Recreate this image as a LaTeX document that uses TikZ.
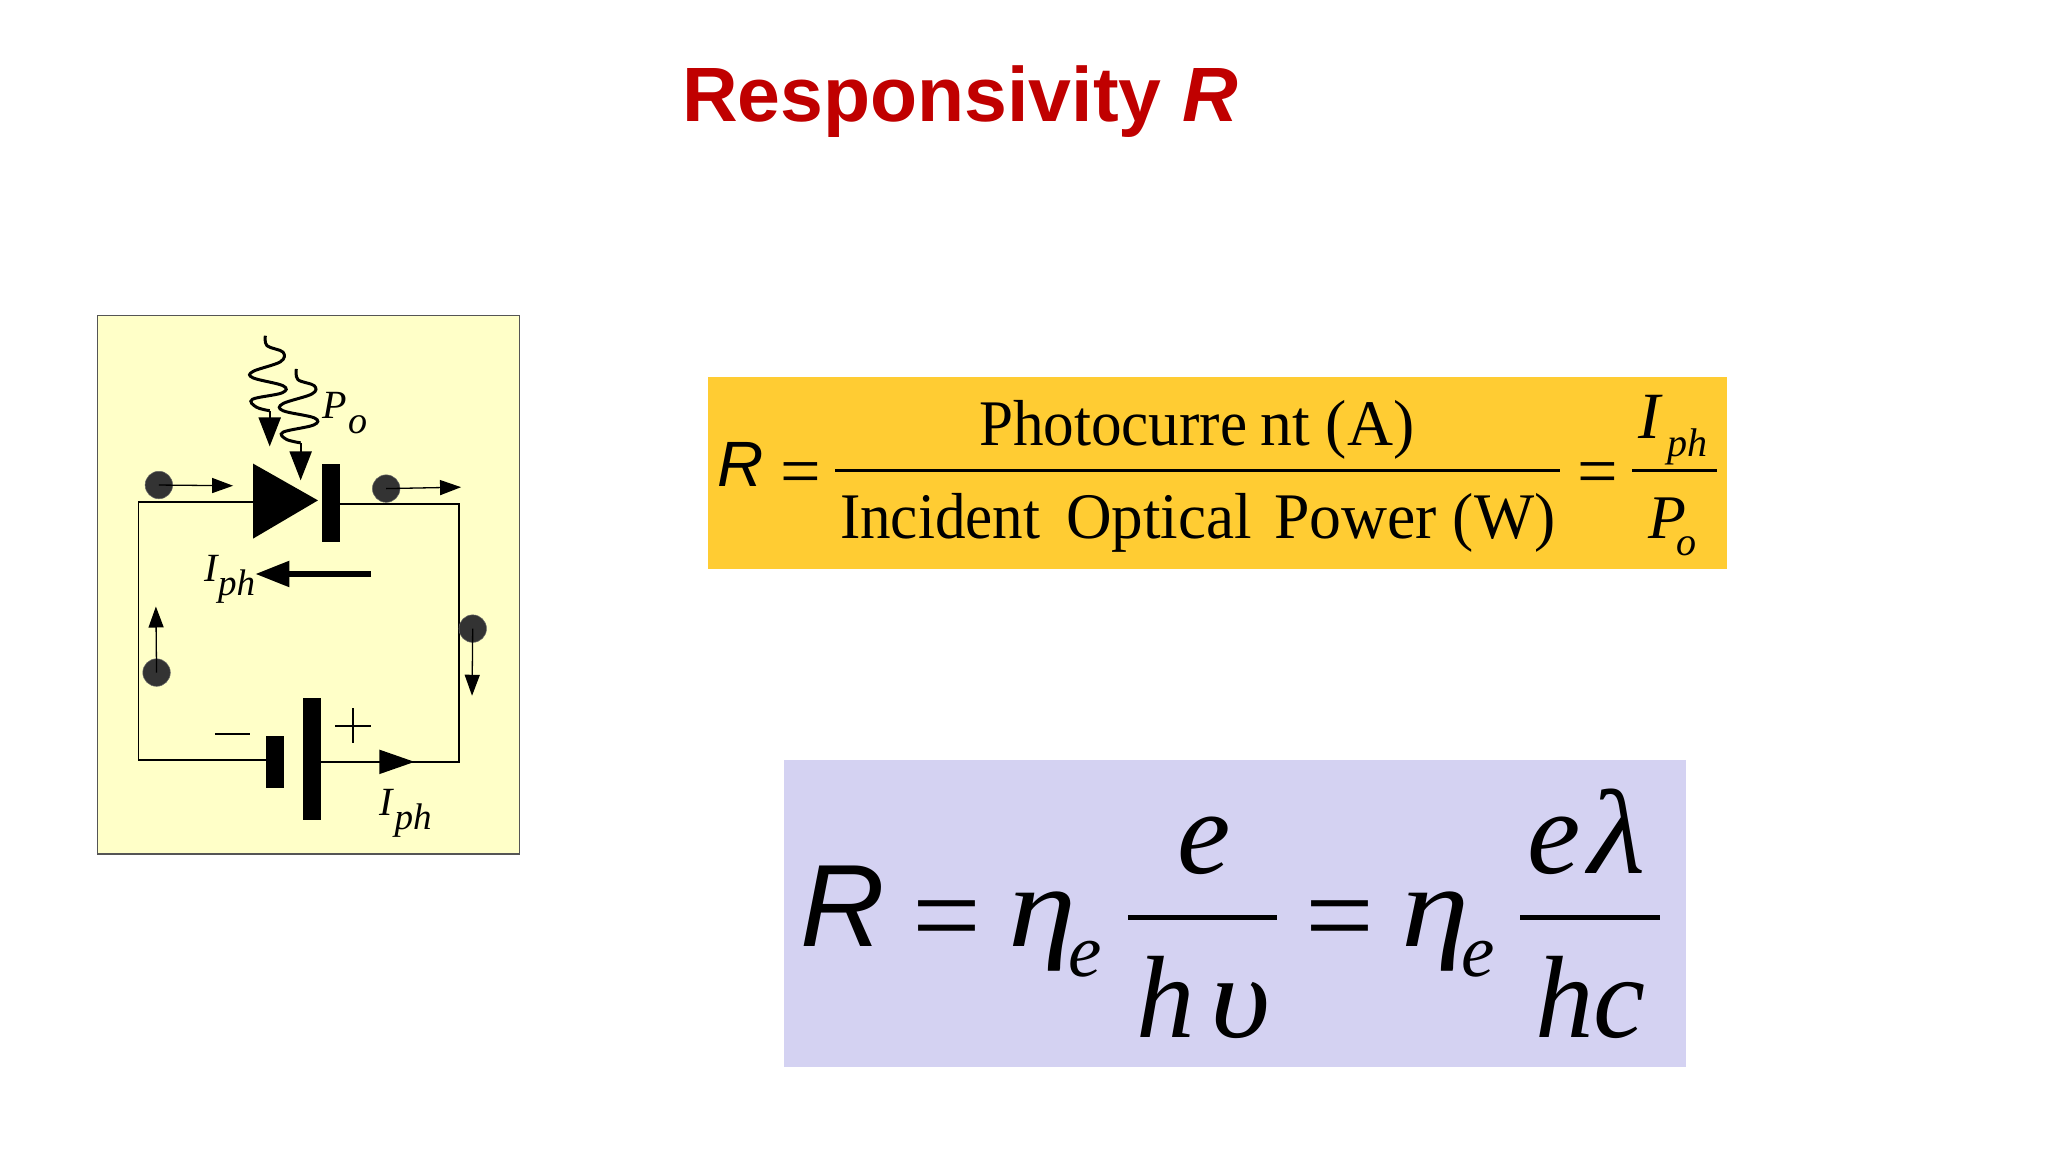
\documentclass[tikz,border=0pt]{standalone}
\usepackage{fontspec}
\usepackage{graphicx}
\setmainfont{Liberation Serif}
\newfontfamily\arialf{Liberation Sans}
\usetikzlibrary{arrows.meta}
\newcommand\pxf[1]{\fontsize{\fpeval{#1*0.28453}}{\fpeval{#1*0.3}}\selectfont}
\definecolor{titlered}{HTML}{C00000}
\definecolor{panelyellow}{HTML}{FFFFC8}
\definecolor{paneledge}{HTML}{555555}
\definecolor{bandorange}{HTML}{FFCC33}
\definecolor{bandviolet}{HTML}{D4D2F2}
\definecolor{dotgrey}{HTML}{333333}
\tikzset{
  txt/.style={inner sep=0pt,outer sep=0pt,anchor=base west},
  wire/.style={line width=0.017cm,line join=miter},
  plate/.style={fill=black,inner sep=0pt,outer sep=0pt},
  chargedot/.style={circle,fill=dotgrey,draw=black!60,line width=0.005cm,inner sep=0pt,minimum size=0.275cm},
  smallarrow/.style={line width=0.013cm,-{Triangle[length=0.21cm,width=0.15cm]}},
  wavearrow/.style={line width=0.022cm,-{Triangle[length=0.29cm,width=0.22cm]}},
  wavy/.style={line width=0.03cm},
  fracbarA/.style={line width=0.03cm},
  fracbarB/.style={line width=0.05cm},
}
\begin{document}
\begin{tikzpicture}[x=0.01cm,y=-0.01cm]
\useasboundingbox[fill=white] (0,0) rectangle (2048,1152);
% title
\node[txt,text=titlered] (title) at (682,121.5) {\arialf\bfseries\pxf{77}Responsivity \itshape R};
% circuit panel
\node[draw=paneledge,fill=panelyellow,line width=0.012cm,inner sep=0pt,anchor=north west,minimum width=4.22cm,minimum height=5.38cm] (panel) at (97,315) {};
\begin{scope}[shift={(90,310)},x=0.003333cm,y=-0.00357cm]
  \coordinate (tl) at (146,537);
  \coordinate (tr) at (1108,543);
  \coordinate (br) at (1108,1265);
  \coordinate (bl) at (146,1260);
  \coordinate (anode) at (490,537);
  \node[plate,minimum width=0.18cm,minimum height=0.78cm] (cath) at (725,539) {};
  \node[plate,minimum width=0.18cm,minimum height=0.52cm] (neg) at (555,1265) {};
  \node[plate,minimum width=0.18cm,minimum height=1.22cm] (pos) at (667,1256) {};
  \fill (490,430) -- (685,533) -- (490,640) -- cycle;
  \draw[wire] (anode) -- (tl) -- (bl) -- (neg.west |- bl);
  \draw[wire] (cath.east |- tr) -- (tr) -- (br) -- (pos.east |- br);
  % current arrows
  \coordinate (bs) at (800,1265);
  \coordinate (be) at (975,1265);
  \draw[line width=0.017cm,-{Triangle[length=0.35cm,width=0.24cm]}] (bs) -- (be);
  \coordinate (ts) at (845,739);
  \coordinate (te) at (497,739);
  \draw[line width=0.055cm,-{Triangle[length=0.34cm,width=0.25cm]}] (ts) -- (te);
  % charge dots
  \node[chargedot] (d1) at (207,490) {};
  \node[chargedot] (d2) at (890,500) {};
  \node[chargedot] (d3) at (1150,892) {};
  \node[chargedot] (d4) at (200,1015) {};
  \coordinate (a1) at (430,492);
  \coordinate (a2) at (1115,496);
  \coordinate (a3) at (1148,1080);
  \coordinate (a4) at (198,830);
  \draw[smallarrow] (d1.center) -- (a1);
  \draw[smallarrow] (d2.center) -- (a2);
  \draw[smallarrow] (d3.center) -- (a3);
  \draw[smallarrow] (d4.center) -- (a4);
  % light
  \draw[wavy] plot[smooth,tension=0.6] coordinates {(527,72) (532,100) (580,118) (572,145) (490,172) (490,190) (580,212) (577,232) (488,250) (500,272) (540,282)};
  \coordinate (w1s) at (540,282);
  \coordinate (w1e) at (540,382);
  \draw[wavearrow] (w1s) -- (w1e);
  \draw[wavy] plot[smooth,tension=0.6] coordinates {(620,165) (625,195) (674,212) (667,235) (580,262) (580,282) (674,302) (672,322) (580,342) (590,362) (633,372)};
  \coordinate (w2s) at (633,372);
  \coordinate (w2e) at (633,477);
  \draw[wavearrow] (w2s) -- (w2e);
  % signs
  \coordinate (m1) at (375,1188);
  \coordinate (m2) at (480,1188);
  \draw[line width=0.02cm] (m1) -- (m2);
  \coordinate (p1) at (737,1165);
  \coordinate (p2) at (843,1165);
  \coordinate (p3) at (790,1115);
  \coordinate (p4) at (790,1213);
  \draw[line width=0.015cm] (p1) -- (p2) (p3) -- (p4);
  % labels
  \node[txt] (poP) at (698,305) {\pxf{40}\itshape P};
  \node[txt] (poO) at (778,345) {\pxf{38}\itshape o};
  \node[txt] (i1) at (345,760) {\pxf{40}\itshape I};
  \node[txt] (i1s) at (385,800) {\pxf{37}\itshape ph};
  \node[txt] (i2) at (870,1415) {\pxf{40}\itshape I};
  \node[txt] (i2s) at (915,1455) {\pxf{37}\itshape ph};
\end{scope}
% orange band
\node[fill=bandorange,inner sep=0pt,anchor=north west,minimum width=10.18cm,minimum height=1.92cm] (bandA) at (707.5,376.5) {};
\node[txt] (aR) at (717,487) {\arialf\itshape\pxf{64}R};
\node[txt] (aEq1) at (780,495) {\pxf{72}=};
\coordinate (aL1) at (835,471);
\coordinate (aL2) at (1560,471);
\draw[fracbarA] (aL1) -- (aL2);
\node[txt] (aNum) at (979,446) {\pxf{65}\scalebox{0.94}[1]{Photocurre}\hspace{0.2em}\scalebox{0.98}[1]{nt (A)}};
\node[txt] (aDen) at (840,538) {\pxf{65}\scalebox{0.94}[1]{Incident}\hspace{0.4em}\scalebox{0.97}[1]{Optical}\hspace{0.34em}\scalebox{0.98}[1]{Power (W)}};
\node[txt] (aEq2) at (1577,495) {\pxf{72}=};
\coordinate (aL3) at (1632,471);
\coordinate (aL4) at (1717,471);
\draw[fracbarA] (aL3) -- (aL4);
\node[txt] (aI) at (1638,439) {\pxf{66}\itshape I};
\node[txt] (aIs) at (1667,457) {\pxf{40}\itshape ph};
\node[txt] (aP) at (1648,538) {\pxf{62}\itshape P};
\node[txt] (aPs) at (1676,555) {\pxf{40}\itshape o};
% violet band
\node[fill=bandviolet,inner sep=0pt,anchor=north west,minimum width=9.02cm,minimum height=3.07cm] (bandB) at (783,759) {};
\node[txt] (bR) at (800,946) {\arialf\itshape\pxf{117}R};
\node[txt] (bEq1) at (912,956) {\pxf{122}=};
\node[txt] (bEta1) at (1008,946) {\pxf{116}\itshape\scalebox{1.18}[1]{η}};
\node[txt] (bSub1) at (1068,976) {\pxf{75}\itshape e};
\coordinate (bL1) at (1128,917);
\coordinate (bL2) at (1277,917);
\draw[fracbarB] (bL1) -- (bL2);
\node[txt] (bNum1) at (1177,873) {\pxf{120}\itshape e};
\node[txt] (bDen1) at (1136,1037) {\pxf{117}\itshape h\hspace{0.14em}\scalebox{1.12}[1]{υ}};
\node[txt] (bEq2) at (1305,956) {\pxf{122}=};
\node[txt] (bEta2) at (1401,946) {\pxf{116}\itshape\scalebox{1.18}[1]{η}};
\node[txt] (bSub2) at (1461,976) {\pxf{75}\itshape e};
\coordinate (bL3) at (1520,917);
\coordinate (bL4) at (1660,917);
\draw[fracbarB] (bL3) -- (bL4);
\node[txt] (bNum2) at (1527,873) {\pxf{120}\itshape e\hspace{0.07em}\scalebox{1.1}[1]{λ}};
\node[txt] (bDen2) at (1535,1037) {\pxf{117}\itshape hc};
\end{tikzpicture}
\end{document}
